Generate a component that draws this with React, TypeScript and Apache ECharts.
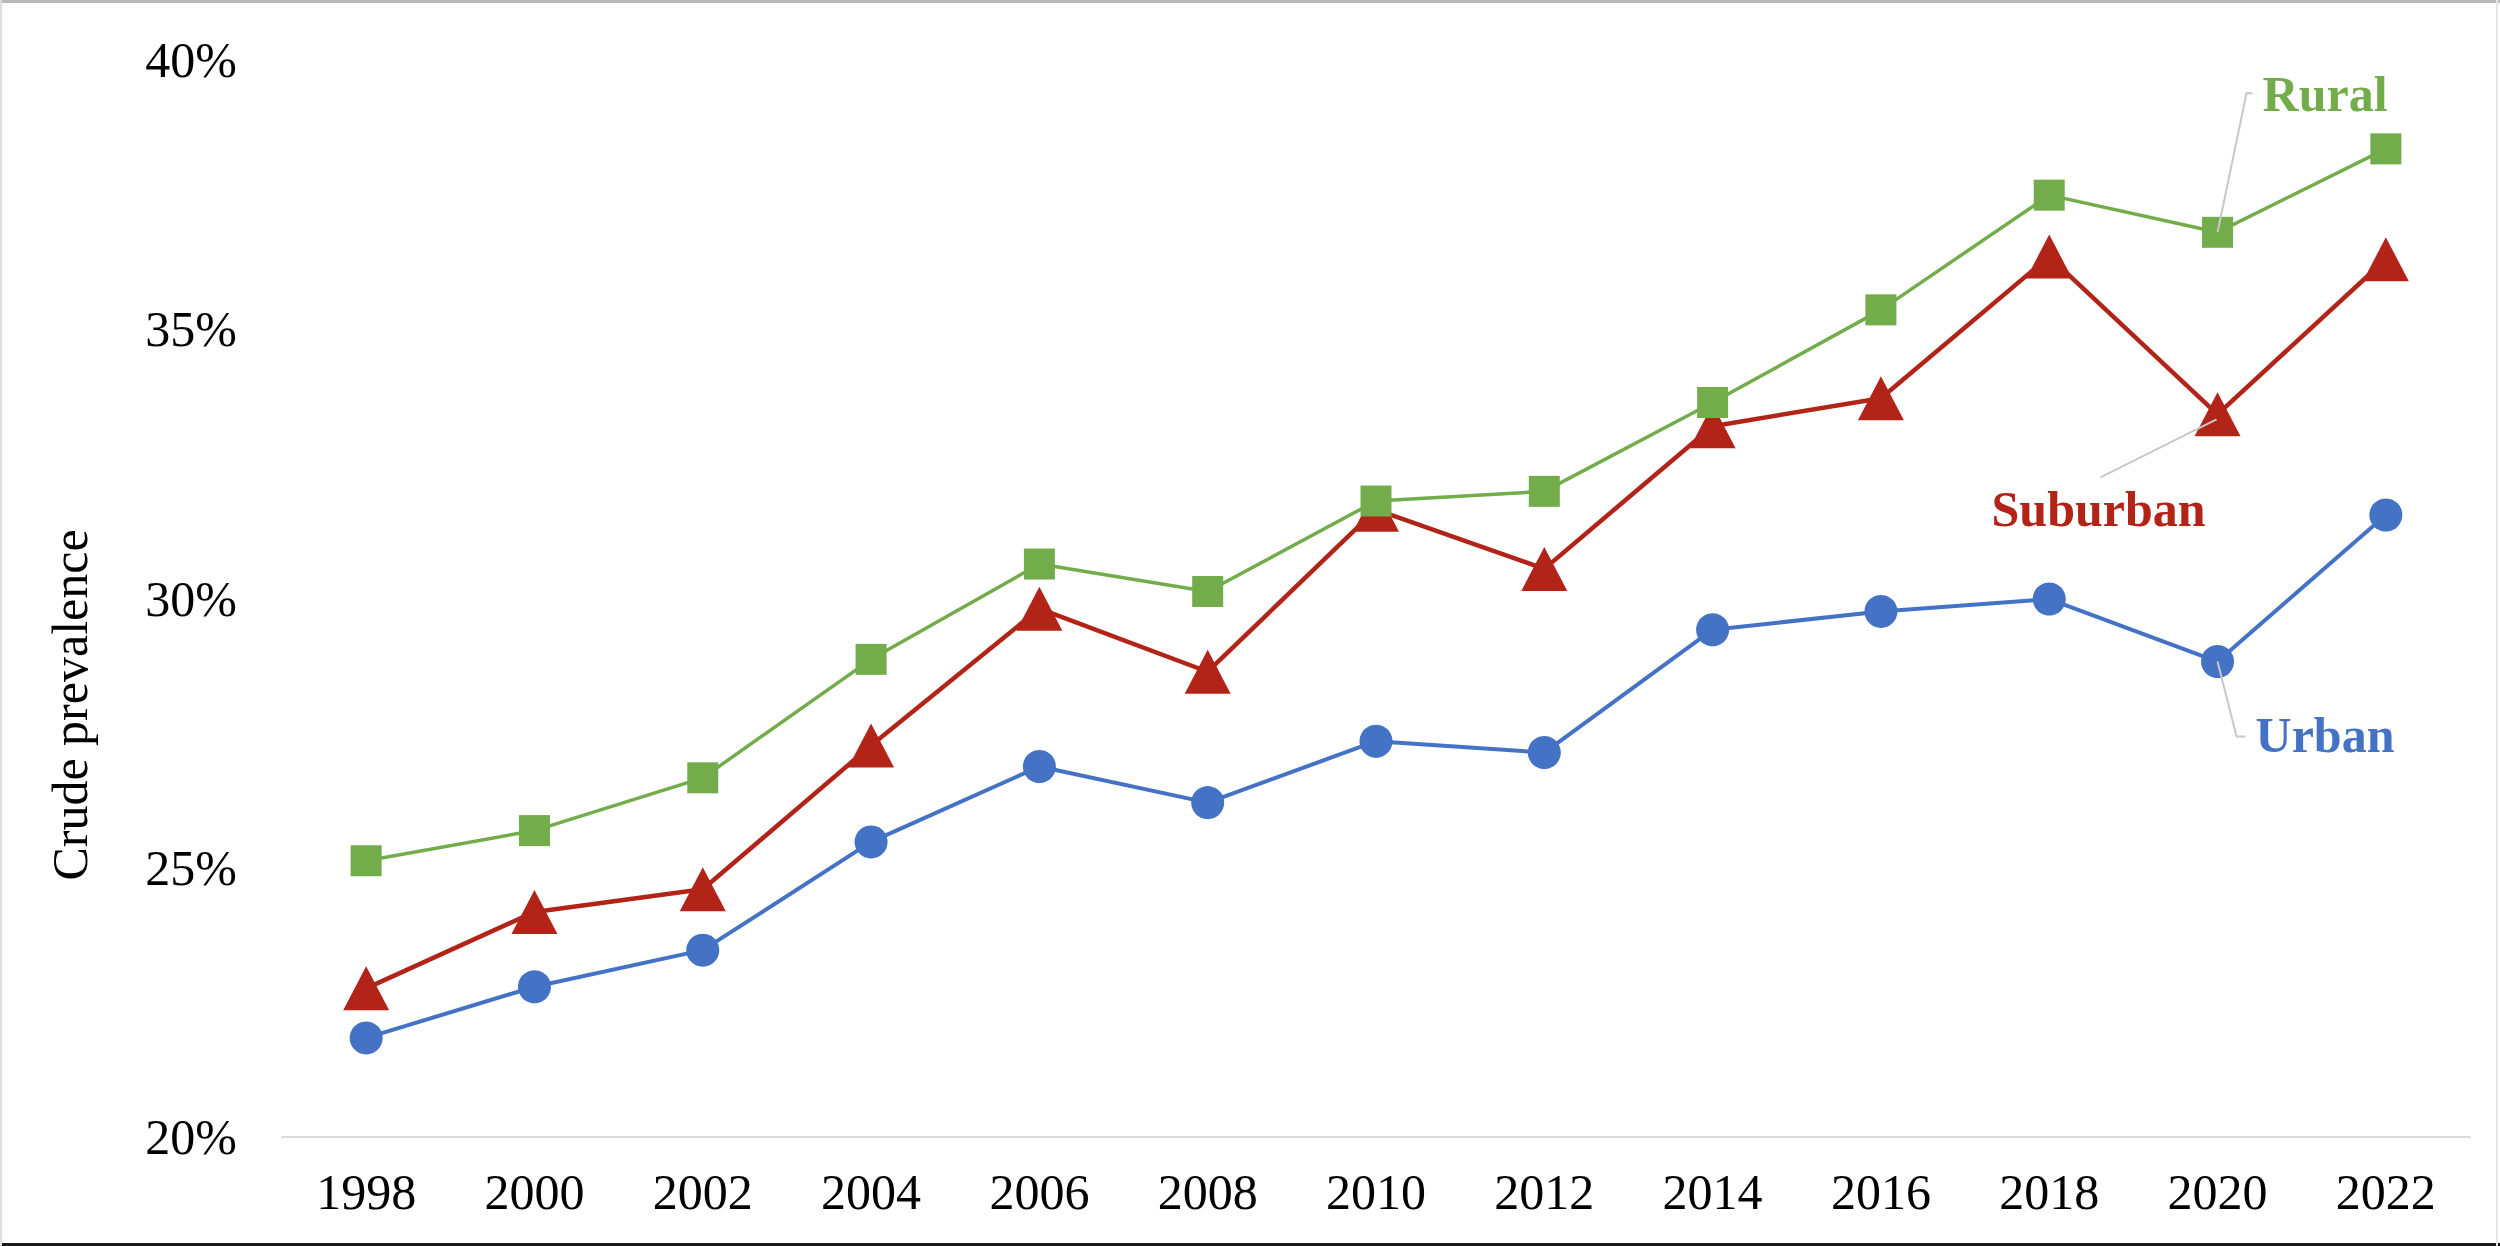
import React, { useEffect, useRef } from "react";
import * as echarts from "echarts";

const years = ["1998", "2000", "2002", "2004", "2006", "2008", "2010", "2012", "2014", "2016", "2018", "2020", "2022"];
const rural = [25.13, 25.69, 26.67, 28.87, 30.64, 30.13, 31.81, 31.99, 33.64, 35.36, 37.49, 36.8, 38.35];
const suburban = [22.76, 24.18, 24.6, 27.27, 29.81, 28.64, 31.65, 30.55, 33.2, 33.72, 36.35, 33.42, 36.3];
const urban = [21.84, 22.79, 23.47, 25.48, 26.88, 26.21, 27.35, 27.14, 29.42, 29.76, 29.99, 28.83, 31.55];
const yTicks = [20, 25, 30, 35, 40];
const seriesNames = ["Rural", "Suburban", "Urban"];
const labelYear = "2020";

const FONT = "'Liberation Serif', 'Times New Roman', serif";
const GREEN = "#72AC4B";
const RED = "#B22418";
const BLUE = "#4472C4";
const LEADER = "#c8c8c8";

export default function App() {
  const ref = useRef<HTMLDivElement>(null);
  useEffect(() => {
    if (!ref.current) return;
    const chart = echarts.init(ref.current, null, { renderer: "svg" });
    chart.setOption({
      animation: false,
      backgroundColor: "#ffffff",
      grid: { left: 282, right: 30, top: 60, bottom: 109, containLabel: false, outerBoundsMode: "none" },
      xAxis: {
        type: "category",
        data: years,
        boundaryGap: true,
        axisLine: { show: true, lineStyle: { color: "#d9d9d9", width: 2 } },
        axisTick: { show: false },
        axisLabel: { color: "#000", fontFamily: FONT, fontSize: 50, margin: 30 },
        splitLine: { show: false },
      },
      yAxis: {
        type: "value",
        min: yTicks[0],
        max: yTicks[yTicks.length - 1],
        interval: 5,
        axisLine: { show: false },
        axisTick: { show: false },
        splitLine: { show: false },
        axisLabel: { color: "#000", fontFamily: FONT, fontSize: 50, margin: 45, formatter: "{value}%" },
      },
      series: [
        {
          name: seriesNames[0],
          type: "line",
          data: rural,
          symbol: "rect",
          symbolSize: 31,
          lineStyle: { color: GREEN, width: 3.5 },
          itemStyle: { color: GREEN },
          z: 3,
        },
        {
          name: seriesNames[1],
          type: "line",
          data: suburban,
          symbol: "triangle",
          symbolSize: [46, 44],
          lineStyle: { color: RED, width: 4.5 },
          itemStyle: { color: RED },
          z: 2,
        },
        {
          name: seriesNames[2],
          type: "line",
          data: urban,
          symbol: "circle",
          symbolSize: 33,
          lineStyle: { color: BLUE, width: 4 },
          itemStyle: { color: BLUE },
          z: 2,
        },
      ],
    });

    const idx = years.indexOf(labelYear);
    const pR = chart.convertToPixel({ gridIndex: 0 }, [idx, rural[idx]]) as number[];
    const pS = chart.convertToPixel({ gridIndex: 0 }, [idx, suburban[idx]]) as number[];
    const pU = chart.convertToPixel({ gridIndex: 0 }, [idx, urban[idx]]) as number[];

    const labelText = (x: number, y: number, text: string, color: string, align: string) => ({
      type: "text",
      x,
      y,
      z: 20,
      style: {
        text,
        fill: color,
        font: `bold 50px ${FONT}`,
        align,
        verticalAlign: "middle",
      },
    });

    chart.setOption({
      graphic: [
        { type: "rect", shape: { x: 0, y: 0, width: 2500, height: 3 }, style: { fill: "#b8b8b8" }, z: 30 },
        { type: "rect", shape: { x: 0, y: 1243, width: 2500, height: 3 }, style: { fill: "#1a1a1a" }, z: 30 },
        { type: "rect", shape: { x: 0, y: 0, width: 2, height: 1246 }, style: { fill: "#dcdcdc" }, z: 30 },
        { type: "rect", shape: { x: 2496, y: 0, width: 2, height: 1246 }, style: { fill: "#e6e6e6" }, z: 30 },
        {
          type: "text",
          x: 70,
          y: 705,
          rotation: Math.PI / 2,
          style: { text: "Crude prevalence", fill: "#000", font: `50px ${FONT}`, align: "center", verticalAlign: "middle" },
        },
        {
          type: "polyline",
          z: 20,
          shape: { points: [[pR[0], pR[1]], [pR[0] + 29, pR[1] - 139], [pR[0] + 35, pR[1] - 139]] },
          style: { stroke: LEADER, lineWidth: 2, fill: null },
        },
        labelText(pR[0] + 45, pR[1] - 138, seriesNames[0], GREEN, "left"),
        {
          type: "polyline",
          z: 20,
          shape: { points: [[pS[0] - 1, pS[1] + 5], [pS[0] - 117, pS[1] + 63]] },
          style: { stroke: LEADER, lineWidth: 2, fill: null },
        },
        labelText(pS[0] - 119, pS[1] + 95, seriesNames[1], RED, "center"),
        {
          type: "polyline",
          z: 20,
          shape: { points: [[pU[0], pU[1]], [pU[0] + 19, pU[1] + 75], [pU[0] + 28, pU[1] + 75]] },
          style: { stroke: LEADER, lineWidth: 2, fill: null },
        },
        labelText(pU[0] + 38, pU[1] + 73, seriesNames[2], BLUE, "left"),
      ],
    });

    return () => chart.dispose();
  }, []);

  return (
    <div
      ref={ref}
      style={{ position: "fixed", left: 0, top: 0, width: 2500, height: 1246, background: "#fff" }}
    />
  );
}
